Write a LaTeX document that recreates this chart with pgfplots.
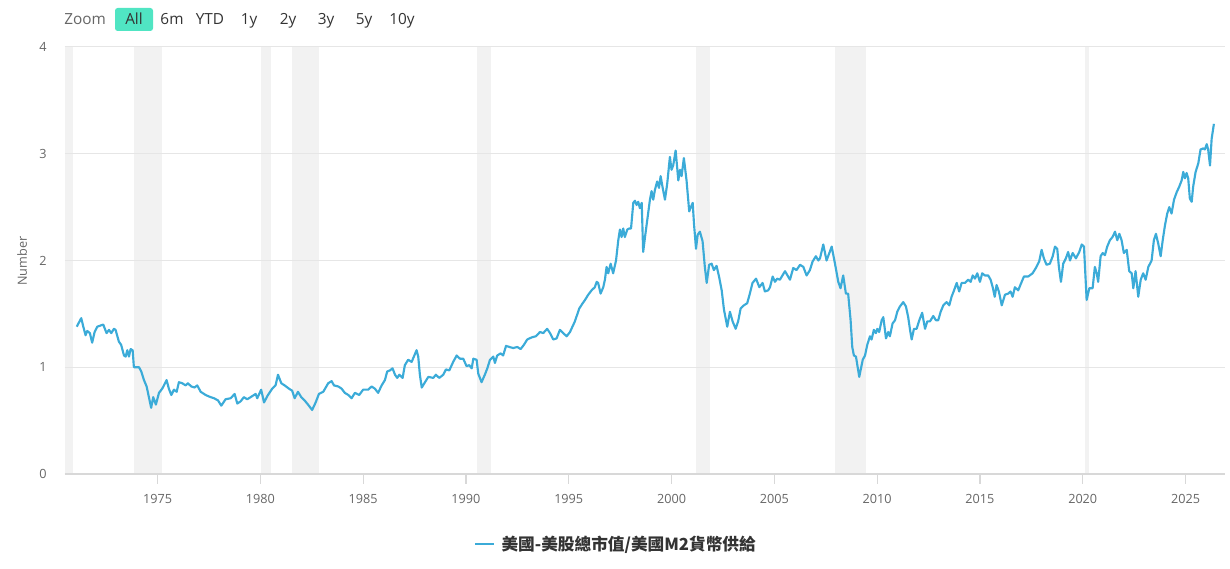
\documentclass[border=0pt]{standalone}
\usepackage{pgfplots}
\pgfplotsset{compat=1.18}
\usepackage{fontspec}
\setmainfont{Open Sans}
\newfontfamily\cjk{Noto Sans CJK TC}
\definecolor{linec}{HTML}{3BABD8}
\definecolor{band}{HTML}{F2F2F2}
\definecolor{gridc}{HTML}{E6E6E6}
\definecolor{axisc}{HTML}{D8D8D8}
\definecolor{txt}{HTML}{666666}
\definecolor{txtd}{HTML}{333333}
\definecolor{btn}{HTML}{50E5C3}
\begin{document}
\begin{tikzpicture}
\begin{axis}[
  at={(0,0)}, anchor=south west,
  scale only axis, width=870.3bp, height=320.25bp,
  xmin=1970.48, xmax=2026.92, ymin=0, ymax=4,
  set layers,
  axis x line=bottom, axis y line=left,
  x axis line style={-, draw=axisc, line width=1.2bp},
  y axis line style={draw=none},
  xtick={1975,1980,...,2025},
  ytick={0,1,2,3,4},
  ymajorgrids, grid style={draw=gridc, line width=0.75bp},
  xtick style={draw=axisc, line width=0.9bp},
  ytick style={draw=none},
  tick align=outside,
  major tick length=7.5bp,
  /pgf/number format/1000 sep={},
  /pgf/number format/assume math mode=true,
  ticklabel style={font=\fontsize{9.5bp}{11bp}\selectfont, text=txt},
  xticklabel style={yshift=-4.5bp},
  yticklabel style={xshift=-2.5bp},
  ylabel={Number},
  ylabel style={at={(axis description cs:-0.0367,0.4988)}, anchor=center, font=\fontsize{9.5bp}{11bp}\selectfont, text=txt},
  legend style={at={(0.3531,-0.1639)}, anchor=west, draw=none, fill=none, inner sep=0pt, outer sep=0pt, column sep=5bp, nodes={inner sep=0pt, text=txtd}, font=\fontsize{12.5bp}{14bp}\selectfont},
  legend image code/.code={\draw[#1, line width=1.6bp] (0bp,0bp) -- (13.8bp,0bp);},
]
% recession bands
\addplot[fill=band, draw=none, on layer=axis background, forget plot] coordinates {(1970.48,4) (1970.87,4)} \closedcycle;
\addplot[fill=band, draw=none, on layer=axis background, forget plot] coordinates {(1973.87,4) (1975.21,4)} \closedcycle;
\addplot[fill=band, draw=none, on layer=axis background, forget plot] coordinates {(1980.04,4) (1980.54,4)} \closedcycle;
\addplot[fill=band, draw=none, on layer=axis background, forget plot] coordinates {(1981.54,4) (1982.87,4)} \closedcycle;
\addplot[fill=band, draw=none, on layer=axis background, forget plot] coordinates {(1990.54,4) (1991.21,4)} \closedcycle;
\addplot[fill=band, draw=none, on layer=axis background, forget plot] coordinates {(2001.21,4) (2001.87,4)} \closedcycle;
\addplot[fill=band, draw=none, on layer=axis background, forget plot] coordinates {(2007.96,4) (2009.46,4)} \closedcycle;
\addplot[fill=band, draw=none, on layer=axis background, forget plot] coordinates {(2020.12,4) (2020.29,4)} \closedcycle;
% series
\addplot[linec, line width=1.6bp, line join=round] coordinates {
(1971.07,1.38) (1971.29,1.46) (1971.39,1.38) (1971.50,1.30) (1971.58,1.34) (1971.71,1.32) (1971.82,1.23) (1971.94,1.33)
(1972.07,1.38) (1972.36,1.40) (1972.52,1.32) (1972.64,1.35) (1972.75,1.32) (1972.88,1.36) (1972.96,1.35)
(1973.12,1.24) (1973.23,1.21) (1973.37,1.11) (1973.45,1.10) (1973.53,1.16) (1973.61,1.10) (1973.69,1.17) (1973.79,1.16) (1973.85,1.00)
(1974.10,1.00) (1974.21,0.96) (1974.34,0.88) (1974.47,0.82) (1974.58,0.72) (1974.69,0.62) (1974.79,0.72) (1974.92,0.65)
(1975.07,0.76) (1975.23,0.80) (1975.44,0.88) (1975.55,0.80) (1975.67,0.74) (1975.80,0.79) (1975.93,0.77)
(1976.04,0.86) (1976.20,0.85) (1976.37,0.83) (1976.48,0.85) (1976.64,0.82) (1976.80,0.81) (1976.93,0.83)
(1977.10,0.77) (1977.34,0.74) (1977.58,0.72) (1977.74,0.71) (1977.94,0.69)
(1978.10,0.64) (1978.31,0.70) (1978.56,0.71) (1978.75,0.75) (1978.88,0.66)
(1979.04,0.68) (1979.20,0.72) (1979.36,0.70) (1979.53,0.72) (1979.77,0.75) (1979.85,0.71)
(1980.04,0.79) (1980.18,0.67) (1980.34,0.73) (1980.58,0.80) (1980.74,0.83) (1980.86,0.93)
(1981.02,0.85) (1981.18,0.83) (1981.39,0.80) (1981.55,0.78) (1981.67,0.71) (1981.83,0.77) (1981.99,0.72)
(1982.15,0.69) (1982.32,0.65) (1982.52,0.60) (1982.69,0.67) (1982.85,0.75)
(1983.06,0.77) (1983.30,0.85) (1983.47,0.87) (1983.58,0.83) (1983.79,0.82) (1983.95,0.80)
(1984.11,0.76) (1984.28,0.74) (1984.44,0.71) (1984.60,0.76) (1984.81,0.74)
(1985.00,0.79) (1985.25,0.79) (1985.41,0.82) (1985.57,0.80) (1985.73,0.76) (1985.90,0.83)
(1986.06,0.88) (1986.17,0.96) (1986.30,0.97) (1986.43,0.99) (1986.55,0.93) (1986.66,0.90) (1986.76,0.93) (1986.92,0.90)
(1987.03,1.02) (1987.19,1.07) (1987.36,1.05) (1987.60,1.16) (1987.68,1.10) (1987.76,0.93) (1987.85,0.81)
(1988.01,0.86) (1988.17,0.91) (1988.41,0.90) (1988.54,0.93) (1988.70,0.90) (1988.90,0.93)
(1989.03,0.98) (1989.19,0.97) (1989.38,1.05) (1989.55,1.11) (1989.71,1.08) (1989.87,1.08)
(1990.03,1.01) (1990.16,1.02) (1990.28,0.99) (1990.36,1.08) (1990.52,1.07) (1990.60,0.94) (1990.76,0.86) (1990.92,0.93)
(1991.04,0.99) (1991.17,1.07) (1991.33,1.10) (1991.41,1.04) (1991.52,1.11) (1991.69,1.13) (1991.81,1.11) (1991.95,1.20)
(1992.11,1.19) (1992.30,1.18) (1992.50,1.19) (1992.66,1.17) (1992.82,1.21) (1992.98,1.26)
(1993.20,1.28) (1993.40,1.29) (1993.60,1.33) (1993.76,1.32) (1993.95,1.36)
(1994.09,1.32) (1994.25,1.26) (1994.41,1.27) (1994.57,1.35) (1994.73,1.32) (1994.90,1.29)
(1995.06,1.33) (1995.30,1.43) (1995.51,1.55) (1995.68,1.60) (1995.79,1.63) (1995.95,1.68)
(1996.11,1.72) (1996.27,1.75) (1996.36,1.80) (1996.43,1.79) (1996.55,1.69) (1996.68,1.75) (1996.76,1.82) (1996.84,1.94) (1996.92,1.88)
(1997.04,1.97) (1997.16,1.88) (1997.30,2.00) (1997.41,2.19) (1997.49,2.29) (1997.57,2.22) (1997.65,2.30) (1997.73,2.22) (1997.85,2.29) (1997.94,2.30)
(1998.03,2.30) (1998.14,2.54) (1998.22,2.56) (1998.30,2.52) (1998.38,2.55) (1998.46,2.49) (1998.55,2.54) (1998.62,2.08) (1998.71,2.22) (1998.82,2.38) (1998.95,2.57)
(1999.03,2.65) (1999.11,2.57) (1999.19,2.66) (1999.30,2.74) (1999.39,2.68) (1999.47,2.79) (1999.57,2.68) (1999.68,2.57) (1999.79,2.72) (1999.92,2.97)
(2000.00,2.85) (2000.08,2.89) (2000.20,3.03) (2000.33,2.75) (2000.41,2.85) (2000.49,2.79) (2000.60,2.96) (2000.73,2.75) (2000.86,2.46) (2000.94,2.50)
(2001.03,2.54) (2001.09,2.35) (2001.19,2.11) (2001.27,2.24) (2001.38,2.27) (2001.51,2.18) (2001.62,1.94) (2001.71,1.79) (2001.83,1.96) (2001.95,1.97)
(2002.06,1.91) (2002.19,1.95) (2002.31,1.85) (2002.44,1.72) (2002.55,1.54) (2002.71,1.38) (2002.84,1.52) (2002.97,1.43)
(2003.12,1.36) (2003.24,1.43) (2003.36,1.55) (2003.52,1.58) (2003.68,1.60) (2003.81,1.69) (2003.94,1.79)
(2004.11,1.83) (2004.27,1.75) (2004.43,1.79) (2004.54,1.71) (2004.70,1.72) (2004.79,1.75) (2004.92,1.85)
(2005.03,1.80) (2005.14,1.83) (2005.27,1.82) (2005.52,1.90) (2005.76,1.82) (2005.92,1.93)
(2006.08,1.91) (2006.25,1.96) (2006.41,1.94) (2006.57,1.86) (2006.73,1.91) (2006.86,1.99)
(2007.02,2.04) (2007.14,2.00) (2007.22,2.02) (2007.38,2.15) (2007.54,2.00) (2007.79,2.13) (2007.95,1.97)
(2008.11,1.80) (2008.22,1.74) (2008.35,1.86) (2008.48,1.69) (2008.59,1.69) (2008.71,1.44) (2008.79,1.19) (2008.87,1.11) (2008.97,1.10)
(2009.13,0.91) (2009.30,1.07) (2009.41,1.11) (2009.52,1.21) (2009.65,1.29) (2009.73,1.26) (2009.84,1.35) (2009.94,1.32)
(2010.01,1.36) (2010.10,1.33) (2010.22,1.44) (2010.30,1.47) (2010.43,1.27) (2010.54,1.33) (2010.62,1.29) (2010.75,1.41) (2010.87,1.44) (2010.98,1.52)
(2011.11,1.57) (2011.27,1.61) (2011.40,1.57) (2011.51,1.47) (2011.60,1.35) (2011.68,1.26) (2011.79,1.36) (2011.92,1.36)
(2012.05,1.44) (2012.19,1.51) (2012.33,1.36) (2012.44,1.43) (2012.57,1.43) (2012.73,1.48) (2012.86,1.44) (2012.97,1.44)
(2013.09,1.52) (2013.22,1.58) (2013.38,1.61) (2013.51,1.58) (2013.62,1.66) (2013.74,1.72) (2013.87,1.79) (2013.99,1.71)
(2014.11,1.79) (2014.27,1.79) (2014.43,1.82) (2014.55,1.80) (2014.65,1.86) (2014.76,1.83) (2014.87,1.88)
(2015.00,1.80) (2015.11,1.88) (2015.24,1.86) (2015.40,1.86) (2015.52,1.82) (2015.62,1.75) (2015.72,1.66) (2015.81,1.77) (2015.92,1.71)
(2016.06,1.58) (2016.22,1.68) (2016.38,1.69) (2016.49,1.71) (2016.59,1.66) (2016.70,1.75) (2016.86,1.72)
(2017.03,1.80) (2017.14,1.85) (2017.35,1.85) (2017.56,1.88) (2017.72,1.93) (2017.88,1.99)
(2018.00,2.10) (2018.11,2.02) (2018.24,1.96) (2018.40,1.97) (2018.54,2.04) (2018.65,2.13) (2018.76,2.11) (2018.84,1.94) (2018.94,1.80)
(2019.05,1.97) (2019.18,2.02) (2019.29,2.08) (2019.38,2.00) (2019.51,2.07) (2019.67,2.02) (2019.83,2.08) (2019.95,2.15)
(2020.06,2.13) (2020.19,1.63) (2020.32,1.74) (2020.48,1.74) (2020.59,1.94) (2020.68,1.88) (2020.75,1.80) (2020.87,2.04) (2020.97,2.07)
(2021.08,2.05) (2021.19,2.13) (2021.32,2.19) (2021.45,2.22) (2021.57,2.27) (2021.68,2.19) (2021.78,2.25) (2021.89,2.19)
(2022.00,2.07) (2022.14,2.10) (2022.26,1.90) (2022.38,1.88) (2022.46,1.74) (2022.57,1.90) (2022.70,1.66) (2022.82,1.82) (2022.94,1.88)
(2023.06,1.82) (2023.19,1.94) (2023.35,2.00) (2023.46,2.19) (2023.56,2.25) (2023.67,2.16) (2023.79,2.04) (2023.89,2.19)
(2024.00,2.33) (2024.11,2.44) (2024.21,2.50) (2024.32,2.44) (2024.44,2.57) (2024.57,2.64) (2024.69,2.69) (2024.81,2.75) (2024.89,2.83) (2024.97,2.77)
(2025.05,2.82) (2025.13,2.77) (2025.21,2.58) (2025.30,2.55) (2025.37,2.69) (2025.49,2.83) (2025.62,2.91) (2025.73,3.04) (2025.86,3.05) (2025.94,3.04)
(2026.03,3.09) (2026.10,3.04) (2026.19,2.89) (2026.27,3.14) (2026.38,3.28)
};
\addlegendentry{\cjk\bfseries 美國-美股總市值/美國M2貨幣供給}
\end{axis}
% range selector
\node[anchor=base west, inner sep=0pt, font=\fontsize{11.5bp}{13bp}\selectfont, text=txt] at (-0.45bp,337.1bp) {Zoom};
\fill[btn, rounded corners=2bp] (37.8bp,332.25bp) rectangle (66.3bp,349.5bp);
\foreach \x/\t in {52.05/All, 80.55/6m, 109.05/YTD, 138.3/1y, 167.55/2y, 196.05/3y, 224.55/5y, 253.05/10y}
  \node[anchor=base, inner sep=0pt, font=\fontsize{11.5bp}{13bp}\selectfont, text=txtd] at (\x bp,337.1bp) {\t};
\pgfresetboundingbox
\useasboundingbox (-48.45bp,-71.25bp) rectangle (874.05bp,355.5bp);
\end{tikzpicture}
\end{document}
